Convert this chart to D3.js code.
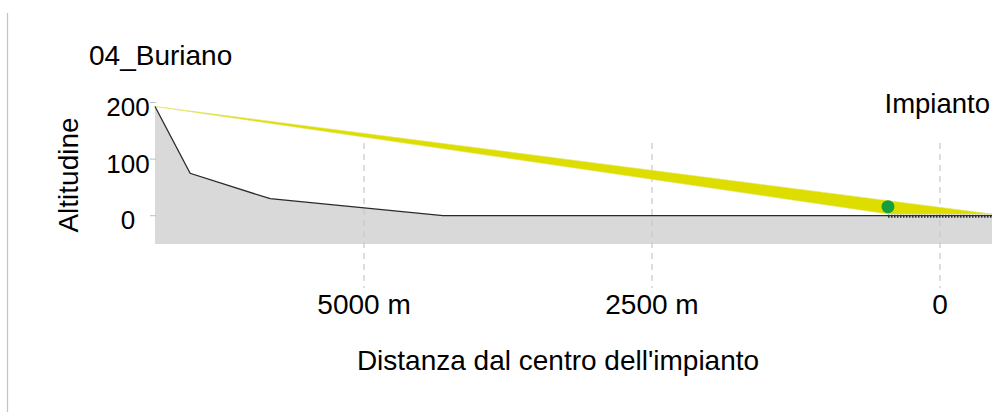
<!DOCTYPE html>
<html><head><meta charset="utf-8">
<script src="https://cdn.jsdelivr.net/npm/d3@7"></script>
<style>
html,body{margin:0;padding:0;background:#fff;}
svg{display:block;font-family:"Liberation Sans",Arial,sans-serif;}
</style></head>
<body><svg id="c" width="995" height="412"></svg>
<script>
// ---- data ----
const title = "04_Buriano";
const terrainDist = [6815, 6510, 5815, 4315, -452];   // m from plant centre
const terrainAlt  = [193, 75, 30, 0, 0];              // m
const plantDist = [451, -452];                        // plant extent
const plantAlt = 3;
const viewDist = [6815, -452, 451];                   // sight wedge vertices
const viewAlt  = [193, 3, 3];
const pointDist = [451];
const pointAlt  = [16];
const xTicks = [5000, 2500, 0];
const xTickLabels = ["5000 m", "2500 m", "0"];
const yTicks = [0, 100, 200];
const yTickLabels = ["0", "100", "200"];
const xDomain = [6815, -452];
const yDomain = [-50, 200];

// ---- scales ----
const svg = d3.select("#c");
const x = d3.scaleLinear().domain(xDomain).range([155, 992]);
const y = d3.scaleLinear().domain(yDomain).range([244, 102.5]);

// frame line on the left
svg.append("line").attr("x1",7.5).attr("x2",7.5).attr("y1",13).attr("y2",412)
  .attr("stroke","#c4c4c4").attr("stroke-width",1.2);

// terrain area
const terr = terrainDist.map((d,i)=>[d, terrainAlt[i]]);
svg.append("path")
  .attr("d", d3.area().x(d=>x(d[0])).y0(y(yDomain[0])).y1(d=>y(d[1]))(terr))
  .attr("fill","#d9d9d9");

// vertical grid
svg.append("g").selectAll("line").data(xTicks).join("line")
  .attr("x1",d=>x(d)).attr("x2",d=>x(d)).attr("y1",143).attr("y2",288)
  .attr("stroke","#c8c8c8").attr("stroke-width",1.2).attr("stroke-dasharray","6,5");

// sight wedge
const wedge = viewDist.map((d,i)=>[x(d), y(viewAlt[i])]);
svg.append("path").attr("d", "M"+wedge.join("L")+"Z")
  .attr("fill","#dddd00").attr("stroke","#e4e470").attr("stroke-width",0.6);

// terrain line
svg.append("path")
  .attr("d", d3.line().x(d=>x(d[0])).y(d=>y(d[1]))(terr))
  .attr("fill","none").attr("stroke","#2a2a2a").attr("stroke-width",1.3);

// plant line (hatched)
svg.append("line").attr("x1",x(plantDist[0])).attr("x2",x(plantDist[1]))
  .attr("y1",y(0)+0.5).attr("y2",y(0)+0.5)
  .attr("stroke","#333").attr("stroke-width",3).attr("stroke-dasharray","1.5,1.5");

// point
svg.selectAll("circle.pt").data(pointDist).join("circle")
  .attr("cx",d=>x(d)).attr("cy",(d,i)=>y(pointAlt[i])).attr("r",6.5)
  .attr("fill","#14a03c");

// y ticks
svg.append("g").selectAll("line").data(yTicks).join("line")
  .attr("x1",150).attr("x2",156).attr("y1",d=>y(d)).attr("y2",d=>y(d))
  .attr("stroke","#c0c0c0").attr("stroke-width",1);
svg.append("g").selectAll("text").data(yTicks).join("text")
  .attr("x",128).attr("y",d=>y(d)+13.5).attr("text-anchor","middle")
  .attr("font-size",26).attr("fill","#000").text((d,i)=>yTickLabels[i]);

// x tick labels
svg.append("g").selectAll("text").data(xTicks).join("text")
  .attr("x",d=>x(d)).attr("y",314).attr("text-anchor","middle")
  .attr("font-size",28).attr("fill","#000").text((d,i)=>xTickLabels[i]);

// titles
svg.append("text").attr("x",89).attr("y",65).attr("font-size",28).attr("fill","#000").text(title);
svg.append("text").attr("x",990).attr("y",113).attr("text-anchor","end")
  .attr("font-size",27.5).attr("fill","#000").text("Impianto");
svg.append("text").attr("transform","translate(78,175) rotate(-90)").attr("text-anchor","middle")
  .attr("font-size",28).attr("fill","#000").text("Altitudine");
svg.append("text").attr("x",558).attr("y",370).attr("text-anchor","middle")
  .attr("font-size",28).attr("fill","#000").text("Distanza dal centro dell'impianto");
</script></body></html>
